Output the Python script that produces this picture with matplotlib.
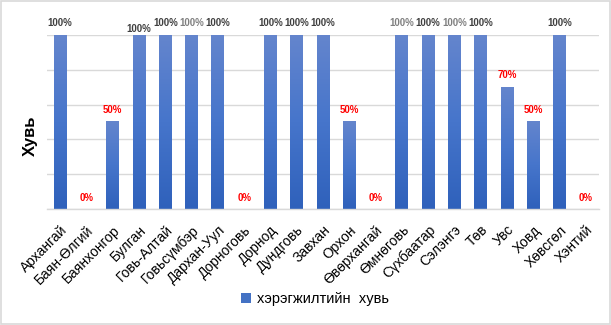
import numpy as np
import matplotlib
matplotlib.use("Agg")
import matplotlib.pyplot as plt
from matplotlib.colors import LinearSegmentedColormap
from matplotlib.patches import Rectangle, Patch

plt.rcParams['font.family'] = ['Liberation Sans', 'DejaVu Sans']

aimags = ["Архангай", "Баян-Өлгий", "Баянхонгор", "Булган", "Говь-Алтай",
          "Говьсүмбэр", "Дархан-Уул", "Дорноговь", "Дорнод", "Дундговь",
          "Завхан", "Орхон", "Өвөрхангай", "Өмнөговь", "Сүхбаатар",
          "Сэлэнгэ", "Төв", "Увс", "Ховд", "Хөвсгөл", "Хэнтий"]
percent = [100, 0, 50, 100, 100, 100, 100, 0, 100, 100,
           100, 50, 0, 100, 100, 100, 100, 70, 50, 100, 0]
series_name = "хэрэгжилтийн  хувь"
axis_title = "Хувь"

fig = plt.figure(figsize=(6.11, 3.25), dpi=100)
fig.patch.set_facecolor("white")
fig.patches.append(Rectangle((0.0015, 0.003), 0.997, 0.994, transform=fig.transFigure,
                             fill=False, edgecolor="#d9d9d9", linewidth=1.2))

ax = fig.add_axes([47 / 611, 1 - 209 / 325, 552 / 611, 174 / 325])
x = np.arange(len(aimags))
bars = ax.bar(x, percent, width=0.49, color="none", edgecolor="none", zorder=2)

# vertical gradient fill for each bar: lighter at the top, deeper at the base
grad_cmap = LinearSegmentedColormap.from_list("barfill", ["#2f61bb", "#4675cb", "#6485cd"])
grad = np.linspace(0, 1, 256).reshape(-1, 1)
for b in bars:
    h = b.get_height()
    if h <= 0:
        continue
    x0 = b.get_x()
    ax.imshow(grad, cmap=grad_cmap, origin="lower", aspect="auto",
              extent=(x0, x0 + b.get_width(), 0, h), zorder=2)

ax.set_xlim(-0.5, len(aimags) - 0.5)
ax.set_ylim(0, 100)
ax.set_yticks(np.arange(0, 101, 20))
ax.yaxis.grid(True, color="#d9d9d9", linewidth=1.0, zorder=0)
ax.set_axisbelow(True)
ax.tick_params(axis="y", length=0, labelleft=False)
ax.tick_params(axis="x", length=0, pad=10)
for s in ["top", "right", "left"]:
    ax.spines[s].set_visible(False)
ax.spines["bottom"].set_color("#d9d9d9")
ax.spines["bottom"].set_linewidth(1.0)

ax.set_xticks(x)
ax.set_xticklabels(aimags, rotation=45, ha="right", va="top",
                   rotation_mode="anchor", fontsize=10, color="#000000")

ax.set_ylabel(axis_title, fontsize=12, fontweight="bold")
ax.yaxis.set_label_coords(-0.016, 0.42)

gray_labels = {"Говьсүмбэр", "Өмнөговь", "Сэлэнгэ"}
for xi, name, v in zip(x, aimags, percent):
    if v >= 100:
        col = "#808080" if name in gray_labels else "#404040"
    else:
        col = "#ff0000"
    off = 5 if v > 0 else 4
    if name == "Булган":
        off = 1
    ax.annotate(f"{v}%", (xi, v), xytext=(0, off), textcoords="offset points",
                ha="center", va="bottom", fontsize=7, fontweight="bold",
                color=col, annotation_clip=False)

handle = Patch(facecolor="#4472c4", edgecolor="none")
fig.legend([handle], [series_name], loc="center", bbox_to_anchor=(315 / 611, 1 - 299 / 325),
           frameon=False, fontsize=10.5, handlelength=0.7, handleheight=0.7,
           handletextpad=0.4)

fig.savefig("out.png", dpi=100, facecolor="white")
